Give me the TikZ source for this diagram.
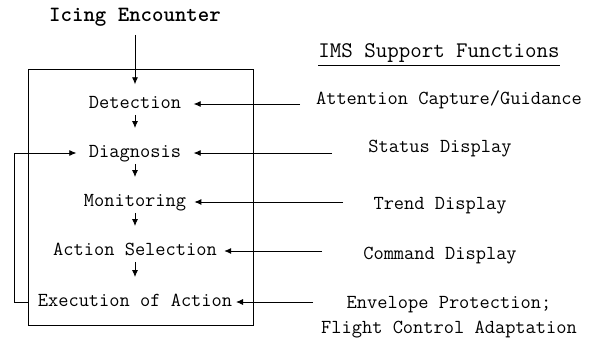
\documentclass[tikz,border=0pt]{standalone}
\usepackage{tikz}
\usetikzlibrary{arrows.meta, positioning}

\tikzset{
	stage/.style={font=\ttfamily\fontsize{11.3}{13}\selectfont, inner sep=1pt, text height=7.5pt, text depth=2.5pt},
	func/.style={font=\ttfamily\fontsize{11.3}{14.2}\selectfont, inner sep=1pt, align=center},
	arr/.style={-{Latex[length=4pt, width=3.5pt]}, line width=0.5pt}
}

\begin{document}
\begin{tikzpicture}
				\useasboundingbox (0, 0) rectangle (12.1, 6.78);
				% Box and stages:
				\node[draw, line width=0.5pt, minimum width=4.5cm, minimum height=5.12cm](box) at (2.81, 2.84){};
				\node[stage, font=\ttfamily\bfseries\fontsize{12.4}{14}\selectfont](icing) at (2.7, 6.44){Icing Encounter};
				\node[stage](det) at (2.7, 4.7){Detection};
				\node[stage](diag) at (2.7, 3.72){Diagnosis};
				\node[stage](mon) at (2.7, 2.74){Monitoring};
				\node[stage](act) at (2.7, 1.76){Action Selection};
				\node[stage](exec) at (2.7, 0.74){Execution of Action};
				\draw[arr, shorten <=4pt, shorten >=5pt] (icing) -- (det);
				\draw[arr, shorten >=8pt] (det) -- (diag);
				\draw[arr, shorten >=8pt] (diag) -- (mon);
				\draw[arr, shorten >=8pt] (mon) -- (act);
				\draw[arr, shorten >=8pt] (act) -- (exec);
				\draw[arr, shorten >=6pt] (box.west |- exec) -- ++(-0.26, 0) |- (diag.west);
				% Support functions:
				\node[func, font=\ttfamily\fontsize{12.7}{14}\selectfont](ims) at (8.78, 5.68){\underline{IMS Support Functions}};
				\node[func](attn) at (8.98, 4.78){Attention Capture/Guidance};
				\node[func](stat) at (8.8, 3.8){Status Display};
				\node[func](trend) at (8.8, 2.66){Trend Display};
				\node[func](cmd) at (8.8, 1.66){Command Display};
				\node[func](env) at (8.98, 0.44){Envelope Protection;\\Flight Control Adaptation};
				\coordinate (t1) at (6.0, 4.7);
				\coordinate (t2) at (6.64, 3.72);
				\coordinate (t3) at (6.86, 2.74);
				\coordinate (t4) at (6.44, 1.76);
				\coordinate (t5) at (6.26, 0.74);
				\draw[arr, shorten >=6pt] (t1) -- (det);
				\draw[arr, shorten >=6pt] (t2) -- (diag);
				\draw[arr, shorten >=3.5pt] (t3) -- (mon);
				\draw[arr, shorten >=3pt] (t4) -- (act);
				\draw[arr, shorten >=1pt] (t5) -- (exec);
			\end{tikzpicture}
\end{document}
